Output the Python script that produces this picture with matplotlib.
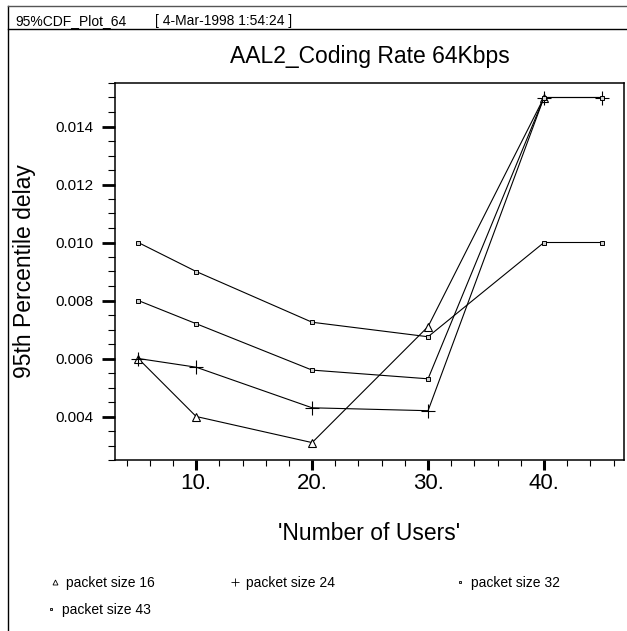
import matplotlib
matplotlib.use('Agg')
import matplotlib.pyplot as plt
from matplotlib.lines import Line2D
from matplotlib.ticker import MultipleLocator, FixedLocator, FuncFormatter

plt.rcParams['font.family'] = ['Liberation Sans', 'DejaVu Sans']

users = [5, 10, 20, 30, 40, 45]
users_16 = [5, 10, 20, 30, 40]
delay_16 = [0.0060, 0.0040, 0.0031, 0.0071, 0.0150]
delay_24 = [0.0060, 0.0057, 0.0043, 0.0042, 0.0150, 0.0150]
delay_32 = [0.0080, 0.0072, 0.0056, 0.0053, 0.0150, 0.0150]
delay_43 = [0.0100, 0.0090, 0.00725, 0.00675, 0.0100, 0.0100]
labels = ['packet size 16', 'packet size 24', 'packet size 32', 'packet size 43']
y_ticks = [0.004, 0.006, 0.008, 0.010, 0.012, 0.014]
x_ticks = [10, 20, 30, 40]


def main():
    fig = plt.figure(figsize=(6.27, 6.31), dpi=100)
    W, H = 627, 631

    def fx(px):
        return px / W

    def fy(py):
        return 1 - py / H

    ax = fig.add_axes([fx(115), fy(460), fx(624) - fx(115), fy(83) - fy(460)])

    styles = [
        dict(marker='^', ms=6, mfc='white', mec='black', mew=0.8),
        dict(marker='+', ms=10, mec='black', mew=0.8),
        dict(marker='s', ms=3.5, mfc='#d0d0d0', mec='black', mew=0.7),
        dict(marker='s', ms=3.5, mfc='#d0d0d0', mec='black', mew=0.7),
    ]
    xs = [users_16, users, users, users]
    series = [delay_16, delay_24, delay_32, delay_43]
    handles = []
    for x, s, st in zip(xs, series, styles):
        h, = ax.plot(x, s, color='black', lw=0.8, **st)
        handles.append(h)

    ax.set_xlim(3, 46.9)
    ax.set_ylim(0.0025, 0.0155)
    ax.yaxis.set_major_locator(FixedLocator(y_ticks))
    ax.yaxis.set_minor_locator(MultipleLocator(0.0005))
    ax.yaxis.set_major_formatter(FuncFormatter(lambda v, p: '%.3f' % v))
    ax.xaxis.set_major_locator(FixedLocator(x_ticks))
    ax.xaxis.set_minor_locator(MultipleLocator(2))
    ax.xaxis.set_major_formatter(FuncFormatter(lambda v, p: '%d.' % v))

    ax.tick_params(axis='y', which='major', direction='out', length=9.5, width=2, labelsize=11, pad=6)
    ax.tick_params(axis='y', which='minor', direction='out', length=5, width=0.8)
    ax.tick_params(axis='x', which='major', direction='out', length=7.5, width=2.2, labelsize=16, pad=2)
    ax.tick_params(axis='x', which='minor', direction='out', length=4, width=0.8)
    for sp in ax.spines.values():
        sp.set_linewidth(1.1)

    ax.set_ylabel('95th Percentile delay', fontsize=16.5, labelpad=14)
    ax.set_xlabel("'Number of Users'", fontsize=16.5, labelpad=20)

    # page frame and header
    fig.add_artist(Line2D([fx(8), fx(8)], [fy(6), 0], color='black', lw=1))
    fig.add_artist(Line2D([fx(8), 1], [fy(6), fy(6)], color='#555555', lw=1))
    fig.add_artist(Line2D([fx(8), 1], [fy(29), fy(29)], color='black', lw=1))
    fig.text(fx(15), fy(21.5), '95%CDF_Plot_64', fontsize=10, va='center')
    fig.text(fx(155), fy(21.5), '[ 4-Mar-1998 1:54:24 ]', fontsize=10, va='center')
    fig.text(fx(370), fy(57), 'AAL2_Coding Rate 64Kbps', fontsize=16.5, ha='center', va='center')

    # legend entries placed like the original page
    spots = [(51, 583), (231, 583), (456, 583), (47, 610)]
    for h, lab, (px, py) in zip(handles, labels, spots):
        hh = Line2D([], [], ls='none', marker=h.get_marker(), ms=h.get_markersize() * 0.6,
                    mfc=h.get_markerfacecolor(), mec='black', mew=0.6)
        fig.legend(handles=[hh], labels=[lab], loc='center left', bbox_to_anchor=(fx(px), fy(py)),
                   frameon=False, fontsize=10, handlelength=0.6, handletextpad=0.5,
                   borderpad=0, borderaxespad=0)

    fig.savefig('out.png', dpi=100)


if __name__ == '__main__':
    main()
